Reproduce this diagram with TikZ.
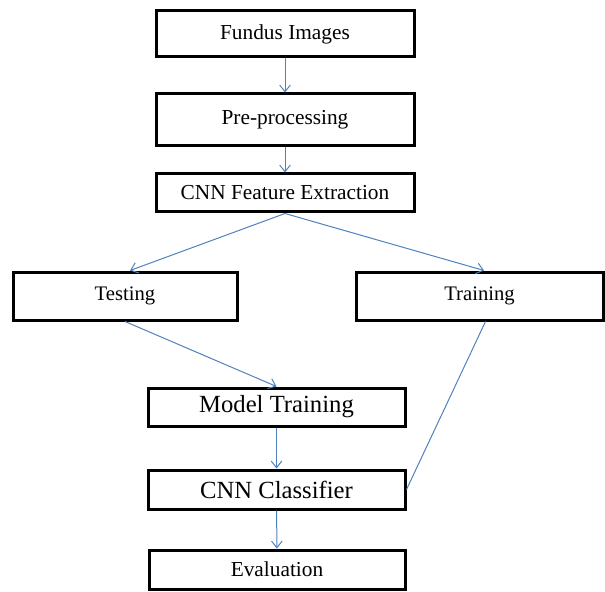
\documentclass[tikz,border=0pt]{standalone}
\usepackage{fontspec}
\setmainfont{Liberation Serif}
\usetikzlibrary{arrows.meta}

\definecolor{arrowblue}{RGB}{79,129,189}

\begin{document}
\begin{tikzpicture}[x=0.75pt,y=0.75pt,yscale=-1,xscale=1,
  stage/.style={draw=black,line width=2.25pt,inner sep=0pt,align=center,font=\fontsize{16}{19}\selectfont},
  bigstage/.style={stage,font=\fontsize{18.5}{22}\selectfont},
  splitstage/.style={stage,font=\fontsize{15.5}{18}\selectfont},
  flow/.style={draw=arrowblue,line width=0.75pt,-{Straight Barb[length=5pt,width=8pt]}},
  feed/.style={draw=arrowblue,line width=0.75pt}]
%set diagram size
\useasboundingbox (0,0) rectangle (605,591);

% Boxes
\node (fundus) [stage,minimum width=193.5pt,minimum height=34.5pt] at (285,34) {Fundus Images};
\node (preproc) [stage,minimum width=193.5pt,minimum height=39pt] at (285,120) {Pre-processing};
\node (feature) [stage,minimum width=193.5pt,minimum height=28.5pt] at (285,193) {CNN Feature Extraction};
\node (testing) [splitstage,minimum width=168pt,minimum height=36pt] at (125,296) {Testing};
\node (training) [splitstage,minimum width=185.25pt,minimum height=36pt] at (479.5,296) {Training};
\node (model) [bigstage,minimum width=192.75pt,minimum height=28.5pt] at (276.5,407) {Model Training};
\node (classifier) [bigstage,minimum width=192.75pt,minimum height=29.25pt] at (276.5,489.5) {CNN Classifier};
\node (evaluation) [stage,minimum width=192pt,minimum height=29.25pt] at (277,569.5) {Evaluation};

% Arrows
\draw [flow] (fundus) -- (preproc);
\draw [flow] (preproc) -- (feature);
\draw [flow] (feature.south) -- ([xshift=3.75pt]testing.north);
\draw [flow] (feature.south) -- ([xshift=3.4pt]training.north);
\draw [flow] (testing.south) -- (model.north);
\draw [flow] (model) -- (classifier);
\draw [flow] (classifier) -- (evaluation);
% Training feeds the classifier
\draw [feed] ([xshift=4.5pt]training.south) -- (classifier.east);

\end{tikzpicture}
\end{document}
